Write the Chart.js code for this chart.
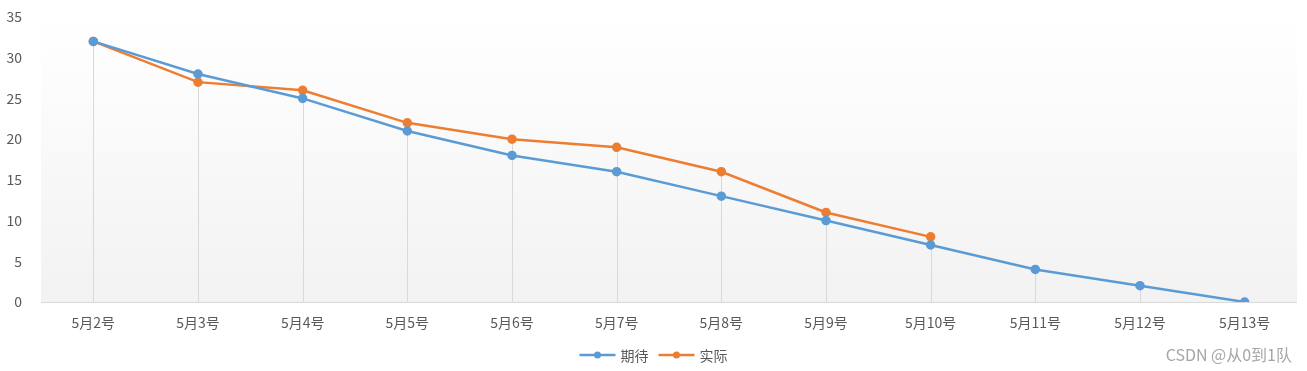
<!DOCTYPE html>
<html>
<head>
<meta charset="utf-8">
<script src="https://cdn.jsdelivr.net/npm/chart.js@4.4.0/dist/chart.umd.min.js"></script>
<style>
  html, body { margin: 0; padding: 0; background: #fff; }
  #wrap { width: 1307px; height: 371px; position: relative; }
</style>
</head>
<body>
<div id="wrap"><canvas id="myChart" width="1307" height="371"></canvas></div>
<script>
var labels = ["5月2号","5月3号","5月4号","5月5号","5月6号","5月7号","5月8号","5月9号","5月10号","5月11号","5月12号","5月13号"];
var expected = [32, 28, 25, 21, 18, 16, 13, 10, 7, 4, 2, 0];
var actual = [32, 27, 26, 22, 20, 19, 16, 11, 8, null, null, null];
var yTicks = [0, 5, 10, 15, 20, 25, 30, 35];

var font = '"Microsoft YaHei", "Noto Sans CJK SC", sans-serif';

// gradient background behind the plot + drop lines from the highest point
var plotDecor = {
    id: 'plotDecor',
    beforeDatasetsDraw: function (chart) {
        var ctx = chart.ctx, a = chart.chartArea;
        var g = ctx.createLinearGradient(0, a.top, 0, a.bottom);
        g.addColorStop(0, '#ffffff');
        g.addColorStop(1, '#f2f2f2');
        ctx.save();
        ctx.fillStyle = g;
        ctx.fillRect(a.left, a.top, a.right - a.left, a.bottom - a.top);
        var x = chart.scales.x, y = chart.scales.y;
        ctx.strokeStyle = '#d9d9d9';
        ctx.lineWidth = 1;
        labels.forEach(function (l, i) {
            var vals = [expected[i], actual[i]].filter(function (v) { return v !== null; });
            var top = Math.max.apply(null, vals);
            var px = Math.round(x.getPixelForValue(i)) + 0.5;
            ctx.beginPath();
            ctx.moveTo(px, y.getPixelForValue(top));
            ctx.lineTo(px, y.getPixelForValue(0));
            ctx.stroke();
        });
        ctx.beginPath();
        ctx.moveTo(a.left, Math.round(y.getPixelForValue(0)) + 0.5);
        ctx.lineTo(a.right, Math.round(y.getPixelForValue(0)) + 0.5);
        ctx.stroke();
        ctx.restore();
    },
    afterDraw: function (chart) {
        var ctx = chart.ctx;
        ctx.save();
        // legend
        var items = chart.data.datasets;
        var cy = 355;
        ctx.font = '14px ' + font;
        var widths = items.map(function (d) { return 36 + 5 + ctx.measureText(d.label).width; });
        var total = widths.reduce(function (s, w) { return s + w; }, 0) + 10 * (items.length - 1);
        var x0 = chart.width / 2 - total / 2;
        items.forEach(function (d, i) {
            ctx.strokeStyle = d.borderColor;
            ctx.lineWidth = 2.5;
            ctx.beginPath();
            ctx.moveTo(x0, cy);
            ctx.lineTo(x0 + 36, cy);
            ctx.stroke();
            ctx.fillStyle = d.borderColor;
            ctx.beginPath();
            ctx.arc(x0 + 18, cy, 3.5, 0, Math.PI * 2);
            ctx.fill();
            ctx.fillStyle = '#595959';
            ctx.textBaseline = 'middle';
            ctx.textAlign = 'left';
            ctx.fillText(d.label, x0 + 41, cy + 1);
            x0 += widths[i] + 10;
        });
        // watermark
        ctx.font = '16px ' + font;
        ctx.fillStyle = '#a6a6a6';
        ctx.textAlign = 'right';
        ctx.fillText('CSDN @从0到1队', 1292, cy);
        ctx.restore();
    }
};

var ctx = document.getElementById("myChart").getContext('2d');
var myChart = new Chart(ctx, {
    type: 'line',
    data: {
        labels: labels,
        datasets: [{
            label: '期待',
            data: expected,
            borderColor: '#5b9bd5',
            backgroundColor: '#5b9bd5',
            borderWidth: 2.5,
            pointRadius: 3.5,
            pointHoverRadius: 3.5,
            lineTension: 0
        }, {
            label: '实际',
            data: actual,
            borderColor: '#ed7d31',
            backgroundColor: '#ed7d31',
            borderWidth: 2.5,
            pointRadius: 3.5,
            pointHoverRadius: 3.5,
            lineTension: 0
        }]
    },
    options: {
        responsive: false,
        animation: false,
        layout: { padding: { top: 17, right: 10, bottom: 0, left: 0 } },
        plugins: {
            legend: { display: false },
            tooltip: { enabled: false }
        },
        scales: {
            x: {
                offset: true,
                grid: { display: false },
                border: { display: false },
                ticks: { color: '#595959', font: { family: font, size: 14 }, padding: 4, maxRotation: 0 },
                afterFit: function (s) { s.height = 69; s.paddingLeft = 0; s.paddingRight = 0; }
            },
            y: {
                min: 0,
                max: 35,
                afterBuildTicks: function (s) { s.ticks = yTicks.map(function (v) { return { value: v }; }); },
                grid: { display: false },
                border: { display: false },
                ticks: { color: '#595959', font: { family: font, size: 14 }, padding: 11 },
                afterFit: function (s) { s.width = 41; s.paddingTop = 0; s.paddingBottom = 0; }
            }
        }
    },
    plugins: [plotDecor]
});
</script>
</body>
</html>
